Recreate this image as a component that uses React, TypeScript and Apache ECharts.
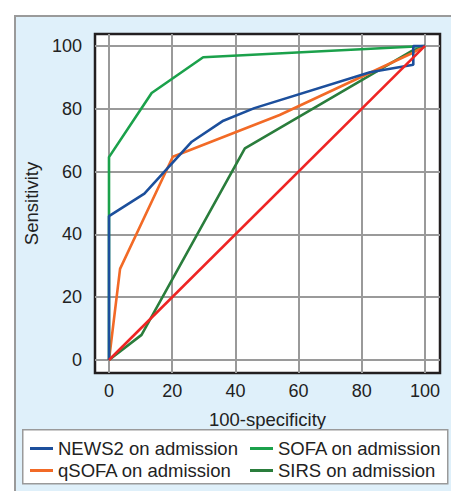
import React, { useEffect, useRef } from "react";
import * as echarts from "echarts";

const xTicks = [0, 20, 40, 60, 80, 100];
const yTicks = [0, 20, 40, 60, 80, 100];

const news2: [number, number][] = [
  [0, 0], [0, 45.8], [11.2, 53], [26.2, 69.5], [36.2, 76.2], [46, 80.2],
  [82.6, 91.6], [96.3, 94], [96.3, 100], [100, 100],
];
const sofa: [number, number][] = [
  [0, 0], [0, 64.6], [13.5, 85], [29.8, 96.4], [100, 100],
];
const qsofa: [number, number][] = [
  [0, 0], [3.5, 29], [20.2, 64.7], [54, 78], [95.5, 97.5], [100, 100],
];
const sirs: [number, number][] = [
  [0, 0], [10.3, 8], [43, 67.4], [96, 98.5], [100, 100],
];
const reference: [number, number][] = [
  [0, 0], [100, 100],
];

const FONT = "'Liberation Sans', Arial, Helvetica, sans-serif";

export default function App() {
  const ref = useRef<HTMLDivElement>(null);
  useEffect(() => {
    if (!ref.current) return;
    const chart = echarts.init(ref.current, undefined, { renderer: "svg" });
    const line = (name: string, data: [number, number][], color: string) => ({
      name,
      type: "line",
      data,
      showSymbol: false,
      symbol: "none",
      lineStyle: { color, width: 2.6 },
      itemStyle: { color },
      z: 3,
    });
    const legendText = { fontSize: 18.5, color: "#222", lineHeight: 18, fontFamily: FONT };
    chart.setOption({
      animation: false,
      backgroundColor: "transparent",
      textStyle: { fontFamily: FONT },
      grid: {
        left: 95,
        top: 34,
        right: 11,
        bottom: 118,
        show: true,
        backgroundColor: "#ffffff",
        borderColor: "#231f20",
        borderWidth: 2.5,
      },
      xAxis: {
        type: "value",
        min: -4.43,
        max: 104.75,
        name: "100-specificity",
        nameLocation: "middle",
        nameGap: 37,
        nameTextStyle: { fontSize: 18.5, color: "#222", fontFamily: FONT },
        axisLine: { show: false },
        axisTick: { show: false, customValues: xTicks },
        axisLabel: { customValues: xTicks, fontSize: 18, color: "#222", margin: 9, fontFamily: FONT },
        splitLine: { show: true, lineStyle: { color: "#9a9a9a", width: 2 } },
      },
      yAxis: {
        type: "value",
        min: -4.14,
        max: 103.8,
        name: "Sensitivity",
        nameLocation: "middle",
        nameGap: 51,
        nameTextStyle: { fontSize: 18.5, color: "#222", fontFamily: FONT },
        axisLine: { show: false },
        axisTick: { show: false, customValues: yTicks },
        axisLabel: { customValues: yTicks, fontSize: 18, color: "#222", margin: 13, fontFamily: FONT },
        splitLine: { show: true, lineStyle: { color: "#9a9a9a", width: 2 } },
      },
      graphic: [
        {
          type: "rect",
          left: 22,
          top: 429,
          shape: { width: 425, height: 54 },
          style: { fill: "#ffffff", stroke: "#9a9a9a", lineWidth: 1.5 },
          z: 1,
        },
      ],
      legend: [
        {
          data: ["NEWS2 on admission", "qSOFA on admission"],
          orient: "vertical",
          left: 25,
          top: 434,
          padding: 5,
          icon: "rect",
          itemWidth: 23,
          itemHeight: 3,
          itemGap: 3,
          textStyle: legendText,
          z: 5,
        },
        {
          data: ["SOFA on admission", "SIRS on admission"],
          orient: "vertical",
          left: 245,
          top: 434,
          padding: 5,
          icon: "rect",
          itemWidth: 23,
          itemHeight: 3,
          itemGap: 3,
          textStyle: legendText,
          z: 5,
        },
      ],
      series: [
        line("SIRS on admission", sirs, "#2a7d3c"),
        line("qSOFA on admission", qsofa, "#f26a26"),
        line("SOFA on admission", sofa, "#1ba14b"),
        line("NEWS2 on admission", news2, "#1c4f9c"),
        line("Reference", reference, "#ee2524"),
      ],
    });
    return () => chart.dispose();
  }, []);
  return (
    <div style={{ position: "fixed", left: 0, top: 0, width: 451, height: 491, background: "#ffffff", overflow: "hidden" }}>
      <div
        style={{
          position: "absolute",
          left: 14,
          top: 15,
          width: 460,
          height: 500,
          background: "#dff0fa",
          borderLeft: "2px solid #9a9a9a",
          borderTop: "2px solid #9a9a9a",
        }}
      />
      <div ref={ref} style={{ position: "absolute", left: 0, top: 0, width: 451, height: 491 }} />
    </div>
  );
}
